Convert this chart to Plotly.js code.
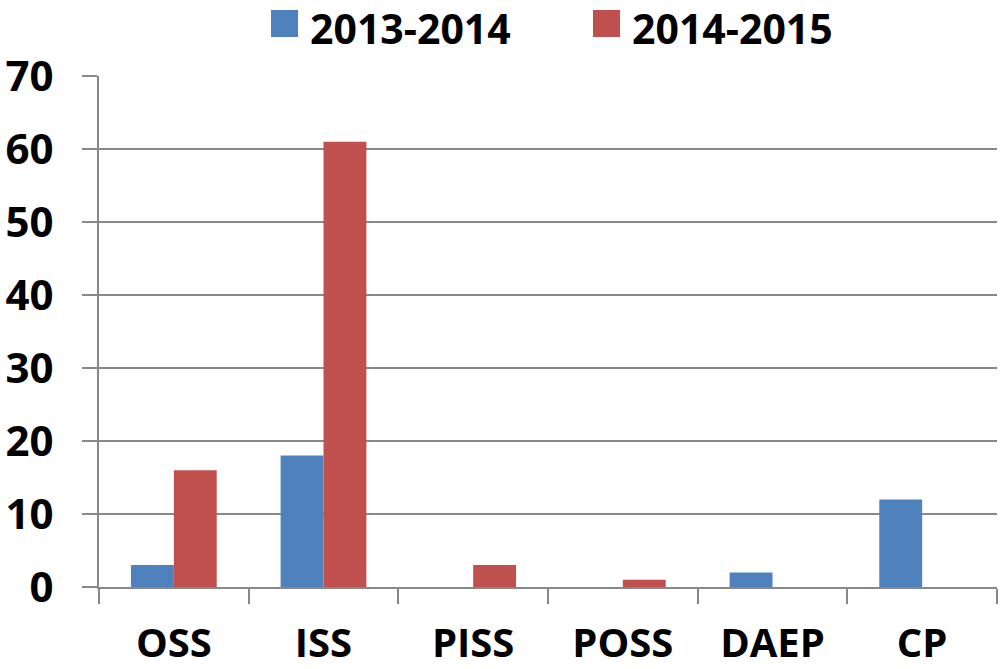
<!DOCTYPE html>
<html>
<head>
<meta charset="utf-8">
<script src="https://cdn.plot.ly/plotly-3.0.1.min.js"></script>
<style>html,body{margin:0;padding:0;background:#fff;}#chart{width:1001px;height:669px;}</style>
</head>
<body>
<div id="chart"></div>
<script>
var categories = ["OSS", "ISS", "PISS", "POSS", "DAEP", "CP"];
var seriesNames = ["2013-2014", "2014-2015"];
var values2013_2014 = [3, 18, 0, 0, 2, 12];
var values2014_2015 = [16, 61, 3, 1, 0, 0];
var seriesColors = ["#4F81BD", "#C0504D"];
var yTickVals = [0, 10, 20, 30, 40, 50, 60, 70];

var FONT = "Open Sans, Liberation Sans, sans-serif";
var GRID = "#888888";

var traces = [
  {type: "bar", name: seriesNames[0], x: categories, y: values2013_2014,
   marker: {color: seriesColors[0]}, hoverinfo: "none"},
  {type: "bar", name: seriesNames[1], x: categories, y: values2014_2015,
   marker: {color: seriesColors[1]}, hoverinfo: "none"}
];

// legend drawn manually (large squares as in reference)
var W = 1001, H = 669, L = 99, R = 4, T = 76, B = 82;
var pw = W - L - R, ph = H - T - B;
function px2x(p){ return (p - L) / pw; }
function py2y(p){ return (H - B - p) / ph; }
var legSquareX = [271, 593];
var shapes = [], annotations = [];
for (var i = 0; i < seriesNames.length; i++) {
  shapes.push({type: "rect", xref: "paper", yref: "paper",
    x0: px2x(legSquareX[i]), x1: px2x(legSquareX[i] + 27),
    y0: py2y(37), y1: py2y(10),
    fillcolor: seriesColors[i], line: {width: 0}});
  annotations.push({xref: "paper", yref: "paper", x: px2x(legSquareX[i] + 37), y: py2y(28),
    xanchor: "left", yanchor: "middle", showarrow: false, text: seriesNames[i],
    font: {family: FONT, size: 41, color: "#000", weight: "bold"}});
}

var layout = {
  width: W, height: H,
  margin: {l: L, r: R, t: T, b: B, pad: 0},
  paper_bgcolor: "#fff", plot_bgcolor: "#fff",
  showlegend: false,
  bargap: 0.427, bargroupgap: 0, barmode: "group",
  font: {family: FONT, size: 40, color: "#000", weight: "bold"},
  xaxis: {type: "category", tickson: "boundaries", ticks: "outside", ticklen: 15,
    tickwidth: 2, tickcolor: GRID, showline: true, linecolor: GRID, linewidth: 2,
    showgrid: false, zeroline: false, ticklabelstandoff: 20,
    tickfont: {family: FONT, size: 40, color: "#000", weight: "bold"}},
  yaxis: {range: [0, 70], tickvals: yTickVals, ticks: "outside", ticklen: 15,
    tickwidth: 2, tickcolor: GRID, showline: true, linecolor: GRID, linewidth: 2,
    showgrid: true, gridcolor: GRID, gridwidth: 2, zeroline: false,
    ticklabelstandoff: 20,
    tickfont: {family: FONT, size: 42, color: "#000", weight: "bold"}},
  shapes: shapes,
  annotations: annotations
};

Plotly.newPlot("chart", traces, layout, {displayModeBar: false, staticPlot: true});
</script>
</body>
</html>
